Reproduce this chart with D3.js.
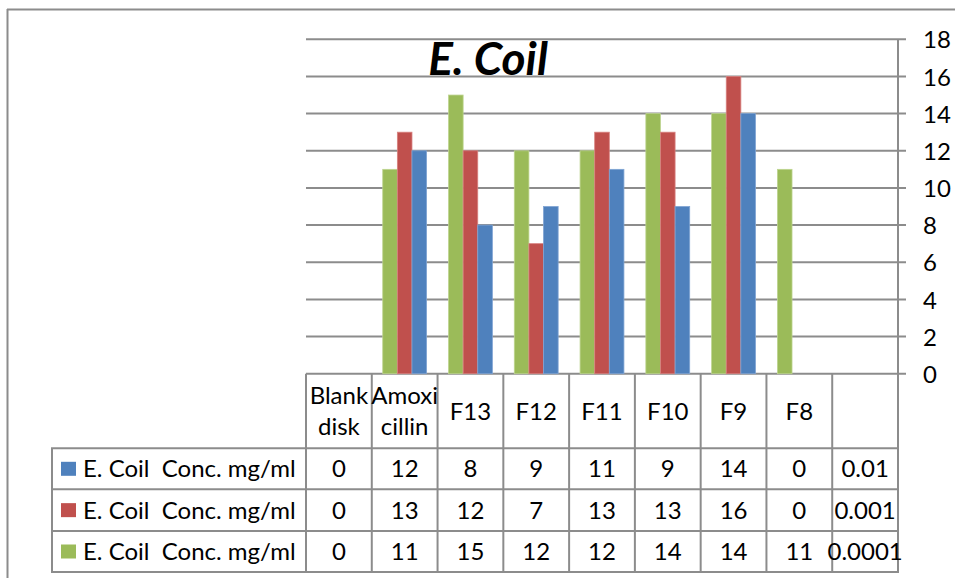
<!DOCTYPE html>
<html>
<head>
<meta charset="utf-8">
<script src="https://cdn.jsdelivr.net/npm/d3@7"></script>
<style>
  html, body { margin: 0; padding: 0; background: #fff; }
  svg { display: block; }
  text { font-family: Lato, "Noto Sans", sans-serif; fill: #000; }
</style>
</head>
<body>
<svg id="chart" width="955" height="578"></svg>
<script>
// ---- data ----
const categoryLines = [["Blank", "disk"], ["Amoxi", "cillin"], ["F13"], ["F12"], ["F11"], ["F10"], ["F9"], ["F8"], [""]];
const categories = categoryLines.map(d => d.join(""));
const seriesNames = ["E. Coil  Conc. mg/ml", "E. Coil  Conc. mg/ml", "E. Coil  Conc. mg/ml"];
const blueValues  = [0, 12, 8, 9, 11, 9, 14, 0, 0.01];
const redValues   = [0, 13, 12, 7, 13, 13, 16, 0, 0.001];
const greenValues = [0, 11, 15, 12, 12, 14, 14, 11, 0.0001];
const yTicks = [0, 2, 4, 6, 8, 10, 12, 14, 16, 18];
const titleText = "E. Coil";

// table rows (top to bottom) and bar order (left to right)
const tableSeries = [
  { name: seriesNames[0], values: blueValues,  color: "#4F81BD", stroke: "#7FA4D3" },
  { name: seriesNames[1], values: redValues,   color: "#C0504D", stroke: "#D8817F" },
  { name: seriesNames[2], values: greenValues, color: "#9BBB59", stroke: "#BDD48F" }
];
const barOrder = [2, 1, 0];

// ---- layout ----
const svg = d3.select("#chart");
const plotL = 306, plotR = 898, plotT = 39.3, plotB = 373.7;
const gridColor = "#8C8C8C";
const rowEdges = [373.7, 448.3, 489.3, 531, 572];
const legendL = 52;
const fs = "24px";

const x = d3.scaleBand().domain(d3.range(categories.length)).range([plotL, plotR]).padding(0);
const y = d3.scaleLinear().domain([0, 18]).range([plotB, plotT]);
const colW = x.bandwidth();
const barW = colW / (3 + 1.5);
const xs = d3.scaleBand().domain(barOrder).range([0, barW * 3]).padding(0);

// outer chart border
svg.append("line").attr("x1", 7).attr("x2", 955).attr("y1", 9.5).attr("y2", 9.5)
  .attr("stroke", gridColor).attr("stroke-width", 2);
svg.append("line").attr("x1", 7.5).attr("x2", 7.5).attr("y1", 9).attr("y2", 578)
  .attr("stroke", gridColor).attr("stroke-width", 2);

// gridlines + right axis ticks
const axis = d3.axisRight(y).tickValues(yTicks).tickSize(0).tickPadding(0).tickFormat(d3.format("d"));
svg.append("g").selectAll("line").data(yTicks).join("line")
  .attr("x1", plotL).attr("x2", plotR + 8)
  .attr("y1", d => y(d)).attr("y2", d => y(d))
  .attr("stroke", gridColor).attr("stroke-width", 2);

const ax = svg.append("g").attr("transform", `translate(${plotR + 25},0)`).call(axis);
ax.select(".domain").remove();
ax.selectAll("text").attr("x", 0).attr("dy", "0.36em").attr("text-anchor", "start")
  .style("font-family", "Lato, 'Noto Sans', sans-serif").style("font-size", fs).attr("fill", "#000");

// bars
const gBars = svg.append("g");
categories.forEach((c, i) => {
  barOrder.forEach(si => {
    const s = tableSeries[si];
    const v = s.values[i];
    const h = plotB - y(v);
    if (h < 0.5) return;
    gBars.append("rect")
      .attr("x", x(i) + (colW - barW * 3) / 2 + xs(si))
      .attr("y", y(v))
      .attr("width", xs.bandwidth())
      .attr("height", h)
      .attr("fill", s.color)
      .attr("stroke", s.stroke).attr("stroke-width", 0.8);
  });
});

// axis line (right)
svg.append("line").attr("x1", plotR).attr("x2", plotR).attr("y1", plotT).attr("y2", plotB)
  .attr("stroke", gridColor).attr("stroke-width", 2);

// title
svg.append("text").attr("x", 488).attr("y", 75).attr("text-anchor", "middle")
  .style("font-size", "46px").style("font-weight", "bold").style("font-style", "italic")
  .text(titleText);

// ---- data table ----
const gT = svg.append("g");
const colEdges = d3.range(categories.length + 1).map(i => plotL + i * colW);
colEdges.forEach(xe => {
  gT.append("line").attr("x1", xe).attr("x2", xe).attr("y1", rowEdges[0]).attr("y2", rowEdges[4])
    .attr("stroke", gridColor).attr("stroke-width", 2);
});
gT.append("line").attr("x1", legendL).attr("x2", legendL).attr("y1", rowEdges[1]).attr("y2", rowEdges[4])
  .attr("stroke", gridColor).attr("stroke-width", 2);
rowEdges.slice(1).forEach(ye => {
  gT.append("line").attr("x1", legendL - 1).attr("x2", plotR + 1).attr("y1", ye).attr("y2", ye)
    .attr("stroke", gridColor).attr("stroke-width", 2);
});

// header labels
const headerMid = (rowEdges[0] + rowEdges[1]) / 2;
categoryLines.forEach((lines, i) => {
  const cx = x(i) + colW / 2;
  const lh = 31.7;
  lines.forEach((ln, k) => {
    const base = headerMid + 8.5 + (k - (lines.length - 1) / 2) * lh;
    gT.append("text").attr("x", cx).attr("y", base).attr("text-anchor", "middle")
      .style("font-size", fs).text(ln);
  });
});

// data rows
tableSeries.forEach((s, r) => {
  const top = rowEdges[r + 1], bot = rowEdges[r + 2];
  const mid = (top + bot) / 2;
  gT.append("rect").attr("x", 61).attr("y", mid - 7).attr("width", 15).attr("height", 14)
    .attr("fill", s.color);
  gT.append("text").attr("x", 83).attr("y", mid + 8.5).style("font-size", fs).text(s.name)
    .attr("xml:space", "preserve").style("white-space", "pre");
  s.values.forEach((v, i) => {
    gT.append("text").attr("x", x(i) + colW / 2).attr("y", mid + 8.5).attr("text-anchor", "middle")
      .style("font-size", fs).text(String(v));
  });
});
</script>
</body>
</html>
